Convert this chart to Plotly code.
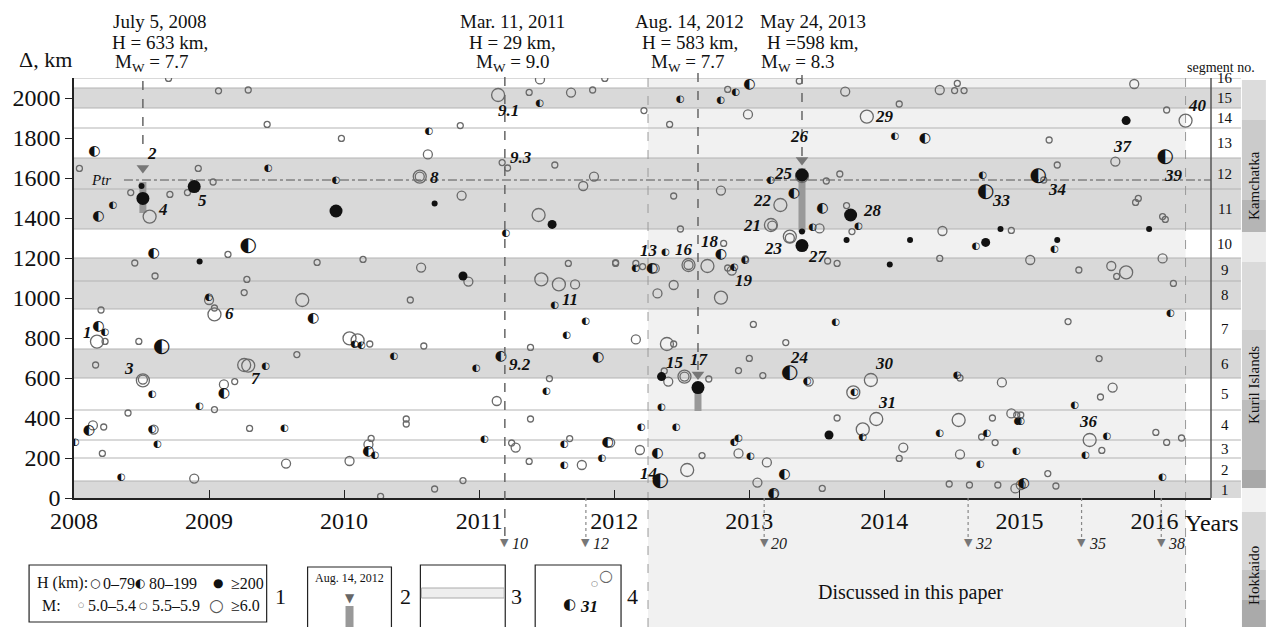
import plotly.graph_objects as go

# ---------------- data ----------------
# Earthquakes: year, epicentral distance (km), magnitude class (1: 5.0-5.4, 2: 5.5-5.9, 3: >=6.0)
# H 0-79 km (open circles)
open_year = [2008.04, 2008.70, 2009.07, 2009.29, 2009.43, 2009.98, 2008.42, 2008.71, 2008.84, 2008.92, 2009.03, 2008.56, 2010.56, 2010.56,
             2009.14, 2008.45, 2009.80, 2010.14, 2010.57, 2008.60, 2009.28, 2009.26, 2009.00, 2009.04, 2009.04, 2009.69, 2010.49, 2008.20,
             2008.17, 2008.23, 2008.48, 2010.04, 2010.10, 2010.19, 2010.59, 2008.16, 2009.65, 2009.26, 2009.29, 2008.51, 2008.51, 2009.11,
             2009.19, 2009.04, 2008.40, 2008.14, 2008.22, 2008.21, 2008.59, 2009.30, 2008.89, 2009.57, 2010.04, 2010.18, 2010.20, 2010.27,
             2010.46, 2010.46,
             2011.45, 2011.93, 2011.14, 2011.37, 2011.68, 2011.84, 2010.86, 2010.62, 2011.17, 2011.21, 2011.56, 2011.85, 2011.77, 2010.87,
             2011.44, 2010.92, 2011.46, 2011.59, 2011.71, 2011.66, 2012.01,
             2011.38, 2011.52, 2011.13, 2011.38, 2011.24, 2011.27, 2011.67, 2011.97, 2011.37, 2011.76, 2010.88, 2010.67,
             2012.22, 2012.41, 2012.84, 2012.99, 2013.37, 2013.71, 2014.11, 2014.41, 2014.52, 2014.59, 2014.54, 2013.87, 2013.57, 2013.67,
             2012.79, 2012.44, 2013.23, 2013.72, 2013.39,
             2012.49, 2013.16, 2013.17, 2013.30, 2013.30, 2013.52, 2013.76, 2014.43, 2014.94, 2014.41, 2013.58, 2013.65, 2012.01, 2012.16,
             2012.21, 2012.30, 2012.55, 2012.55, 2012.69, 2012.81, 2012.87, 2012.84, 2012.97, 2012.32, 2012.44, 2012.79, 2013.03, 2012.16,
             2012.39, 2012.44, 2013.27, 2012.37, 2012.40, 2012.52, 2012.52, 2012.70, 2012.92, 2013.00, 2013.10, 2013.44, 2013.90, 2013.77,
             2014.56, 2014.87, 2013.65, 2013.94, 2013.84, 2014.55, 2014.80, 2014.94, 2014.98, 2014.72, 2014.82, 2012.19, 2012.65, 2012.92,
             2013.13, 2012.54, 2013.06, 2013.18, 2013.54, 2014.14, 2014.11, 2014.56, 2014.48, 2014.63, 2014.84, 2014.97,
             2015.85, 2016.09, 2016.23, 2015.22, 2015.28, 2015.71, 2015.18, 2015.88, 2015.86, 2016.06, 2016.08, 2015.08, 2015.44, 2015.68,
             2015.79, 2015.72, 2016.06, 2016.14,
             2015.36, 2015.59, 2015.69, 2015.60, 2015.01, 2015.52, 2015.61, 2016.01, 2016.09, 2016.20, 2015.21, 2015.27, 2015.01]
open_dist = [1648, 2098, 2036, 2040, 1868, 1798, 1527, 1518, 1527, 1648, 1580, 1407, 1607, 1607,
             1218, 1175, 1178, 1193, 1152, 1110, 1093, 1027, 990, 950, 918, 990, 990, 940,
             782, 783, 783, 798, 788, 770, 760, 665, 717, 665, 662, 588, 592, 568,
             582, 442, 425, 363, 355, 223, 342, 348, 97, 172, 185, 268, 298, 8,
             395, 370,
             2093, 2098, 2015, 2028, 2027, 2040, 1862, 1718, 1677, 1650, 1665, 1607, 1560, 1512,
             1415, 1082, 1093, 1068, 1068, 1173, 1173,
             753, 597, 485, 395, 275, 252, 297, 277, 183, 165, 87, 45,
             1937, 1868, 2043, 1918, 2085, 2032, 1970, 2040, 2037, 2037, 2073, 1907, 1585, 1620,
             1537, 1510, 1465, 1462, 1610,
             1345, 1365, 1362, 1307, 1300, 1348, 1332, 1335, 1338, 1198, 1185, 1173, 1177, 1173,
             1157, 1148, 1165, 1165, 1160, 1273, 1137, 1150, 1195, 1023, 1065, 1002, 868, 793,
             770, 770, 777, 635, 582, 607, 607, 595, 637, 698, 612, 582, 590, 528,
             600, 578, 400, 395, 343, 390, 400, 423, 415, 305, 277, 240, 212, 223,
             178, 140, 77, 18, 48, 252, 198, 218, 70, 65, 65, 48,
             2070, 1940, 1887, 1790, 1665, 1682, 1590, 1498, 1478, 1407, 1393, 1190, 1140, 1160,
             1128, 1108, 1198, 1073,
             882, 697, 552, 505, 415, 290, 238, 328, 278, 300, 122, 60, 65]
open_mag = [1, 1, 1, 1, 1, 1, 1, 1, 1, 1, 1, 3, 3, 2,
            1, 1, 1, 1, 2, 1, 1, 1, 2, 1, 3, 3, 1, 1,
            3, 1, 1, 3, 3, 1, 1, 1, 1, 3, 3, 3, 2, 2,
            1, 1, 1, 2, 1, 1, 2, 1, 2, 2, 2, 2, 1, 1,
            1, 1,
            2, 1, 3, 1, 2, 1, 1, 2, 1, 1, 1, 2, 2, 2,
            3, 2, 3, 3, 2, 1, 1,
            1, 1, 2, 1, 1, 2, 1, 2, 1, 2, 1, 1,
            1, 1, 1, 2, 1, 2, 1, 2, 1, 1, 1, 3, 1, 1,
            2, 1, 3, 1, 3,
            1, 3, 2, 3, 2, 2, 1, 2, 1, 1, 1, 1, 1, 1,
            1, 2, 3, 2, 3, 1, 2, 1, 1, 2, 2, 3, 1, 2,
            3, 1, 1, 1, 2, 3, 2, 1, 1, 1, 1, 2, 3, 3,
            1, 2, 1, 3, 3, 3, 1, 2, 1, 1, 1, 2, 1, 2,
            2, 3, 2, 2, 1, 2, 1, 2, 1, 1, 1, 2,
            2, 1, 3, 1, 1, 2, 1, 1, 1, 1, 1, 2, 1, 2,
            3, 1, 2, 1,
            1, 1, 2, 1, 1, 3, 1, 1, 1, 1, 1, 1, 2]

# H 80-199 km (half-filled circles)
half_year = [2008.15, 2008.29, 2008.18, 2009.44, 2009.94, 2009.29, 2008.59, 2009.00, 2009.77, 2008.18, 2008.23, 2008.65, 2010.08,
             2010.13, 2010.37, 2009.42, 2008.58, 2009.11, 2008.93, 2008.11, 2008.01, 2008.58, 2008.62, 2009.56, 2008.35, 2010.18,
             2010.23,
             2011.45, 2010.63, 2011.20,
             2011.56, 2011.79, 2011.65, 2011.16, 2010.98, 2011.88, 2011.50, 2011.04, 2011.63, 2011.95, 2011.63, 2011.91,
             2012.49, 2012.79, 2012.90, 2013.00, 2014.08, 2014.30, 2013.16, 2013.33, 2014.73, 2014.75, 2013.54,
             2013.47, 2013.81, 2014.68, 2012.38, 2012.28, 2012.16, 2012.79, 2012.89, 2012.97, 2013.64, 2012.35, 2012.20, 2012.46,
             2013.30, 2013.43, 2013.78, 2014.54, 2013.84, 2014.41, 2014.76, 2014.99, 2012.32, 2012.89, 2012.92, 2013.01, 2012.34,
             2013.26, 2013.18, 2014.71, 2014.98,
             2016.08, 2015.14, 2015.26,
             2016.12, 2015.41, 2015.01, 2015.65, 2015.49, 2015.03, 2016.06]
half_dist = [1735, 1462, 1407, 1648, 1590, 1262, 1223, 1002, 897, 857, 827, 755, 770,
             765, 708, 660, 518, 523, 458, 337, 277, 342, 270, 348, 105, 232,
             215,
             1973, 1835, 1323,
             962, 885, 812, 710, 648, 703, 533, 295, 270, 277, 165, 198,
             1995, 1990, 2030, 2070, 1810, 1798, 1590, 1523, 1612, 1532, 1448,
             1353, 1360, 1260, 1228, 1148, 1148, 1218, 1152, 1188, 878, 453, 355, 355,
             627, 582, 530, 612, 305, 323, 323, 382, 223, 277, 298, 210, 85,
             120, 25, 170, 232,
             1703, 1610, 1245,
             923, 465, 382, 310, 212, 73, 105]
half_mag = [2, 1, 2, 1, 1, 3, 2, 1, 2, 2, 1, 3, 1,
            1, 1, 1, 1, 2, 1, 2, 1, 1, 1, 1, 1, 2,
            1,
            1, 1, 1,
            1, 1, 1, 2, 1, 2, 1, 1, 1, 2, 1, 1,
            1, 1, 1, 2, 1, 2, 1, 2, 1, 3, 2,
            1, 1, 1, 1, 2, 1, 2, 1, 1, 1, 1, 1, 1,
            3, 1, 1, 1, 1, 1, 1, 1, 2, 1, 1, 1, 3,
            2, 2, 1, 1,
            3, 3, 1,
            1, 1, 1, 1, 1, 2, 1]

# H >= 200 km (filled circles)
fill_year = [2008.50, 2008.51, 2008.89, 2009.94, 2008.93, 2010.67, 2011.54, 2010.88, 2012.35, 2012.62, 2013.39, 2013.39,
             2013.39, 2013.75, 2013.72, 2014.19, 2014.86, 2014.75, 2014.04, 2013.59, 2015.79, 2015.96, 2015.28]
fill_dist = [1560, 1498, 1557, 1435, 1183, 1473, 1368, 1110, 607, 552, 1615, 1332,
             1262, 1415, 1290, 1290, 1345, 1278, 1168, 315, 1887, 1345, 1290]
fill_mag = [1, 3, 3, 3, 1, 1, 2, 2, 2, 3, 3, 1,
            3, 3, 1, 1, 1, 2, 1, 2, 2, 1, 1]

# Numbered events (labels)
lab_text = ["1", "2", "3", "4", "5", "6", "7", "8", "9.1", "9.2", "9.3", "11", "13", "14", "15", "16", "17", "18", "19",
            "21", "22", "23", "24", "25", "26", "27", "28", "29", "30", "31", "33", "34", "36", "37", "39", "40"]
lab_year = [2008.10, 2008.58, 2008.41, 2008.66, 2008.95, 2009.15, 2009.35, 2010.67, 2011.22, 2011.30, 2011.31, 2011.67,
            2012.26, 2012.25, 2012.45, 2012.52, 2012.63, 2012.71, 2012.96, 2013.02, 2013.10, 2013.18, 2013.37, 2013.25,
            2013.37, 2013.51, 2013.91, 2014.00, 2014.00, 2014.02, 2014.87, 2015.28, 2015.51, 2015.77, 2016.14, 2016.32]
lab_dist = [830, 1725, 650, 1445, 1490, 925, 600, 1605, 1940, 670, 1705, 995,
            1240, 125, 680, 1245, 695, 1285, 1090, 1365, 1490, 1248, 705, 1623,
            1807, 1207, 1437, 1907, 675, 480, 1490, 1545, 382, 1760, 1615, 1965]

# Great deep / megathrust earthquakes
event_year = [2008.51, 2011.19, 2012.62, 2013.39]
event_date = ["July 5, 2008", "Mar. 11, 2011", "Aug. 14, 2012", "May 24, 2013"]
event_depth = ["H = 633 km,", "H = 29 km,", "H = 583 km,", "H =598 km,"]
event_mw = ["7.7", "9.0", "7.7", "8.3"]
event_line_end = [1770, None, 640, 1710]     # end of dashed line (km)
event_tip = [1650, None, 618, 1690]          # arrow tip (km)
event_bar_top = [1580, None, 565, 1650]      # rupture bar (km)
event_bar_bot = [1425, None, 435, 1330]

# Events outside the segment range (arrows below axis)
below_text = ["10", "12", "20", "32", "35", "38"]
below_year = [2011.19, 2011.79, 2013.11, 2014.62, 2015.46, 2016.05]

# Segments
seg_bounds = [0, 85, 200, 290, 440, 600, 745, 945, 1085, 1200, 1345, 1545, 1700, 1850, 1950, 2050, 2100]
seg_grey = [1, 6, 8, 9, 11, 12, 15]
ptr_dist = 1590
discussed = [2012.25, 2016.23]

years = list(range(2008, 2017))
dist_ticks = list(range(0, 2001, 200))

# Legend key texts
legend_h = [("H (km):", 33), ("0–79", 99), ("80–199", 145), ("≥200", 227)]
legend_h_sym = [("○", 93), ("◐", 138), ("●", 216)]
legend_m = [("M:", 38), ("5.0–5.4", 84), ("5.5–5.9", 148), ("≥6.0", 227)]
legend_m_sym = [(7, 79), (10, 142), (17, 215)]

# ---------------- styling helpers ----------------
L, R, T, B = 72, 55, 78, 129
W, H = 1266, 627
PW, PH = W - L - R, H - T - B
X0, X1 = 2008.0, 2008.0 + PW / 135.3


def py(p):
    return (H - B - p) / PH


def px(p):
    return (p - L) / PW


SERIF = "Liberation Serif, Times New Roman, serif"
SYMF = "DejaVu Sans"
OPEN_SIZE = {1: 6, 2: 9, 3: 13}
FILL_SIZE = {1: 6, 2: 9, 3: 13}
HALF_FONT = {1: 10, 2: 14, 3: 20}
OPEN_COLOR = "#6a6a6a"

fig = go.Figure()
shapes = []
ann = []

# discussed region background
shapes.append(dict(type="rect", xref="x", yref="paper", x0=discussed[0], x1=discussed[1], y0=py(627), y1=1,
                   fillcolor="#f1f1f1", line_width=0, layer="below"))
# grey segment bands
for s in seg_grey:
    shapes.append(dict(type="rect", xref="paper", yref="y", x0=0, x1=px(1241), y0=seg_bounds[s - 1], y1=seg_bounds[s],
                       fillcolor="#d9d9d9", line_width=0, layer="below"))
# boundary lines
for b in seg_bounds[1:]:
    shapes.append(dict(type="line", xref="paper", yref="y", x0=0, x1=px(1241), y0=b, y1=b,
                       line=dict(color="#b3b3b3", width=1.2), layer="below"))
# discussed region dashed borders
for d in discussed:
    shapes.append(dict(type="line", xref="x", yref="paper", x0=d, x1=d, y0=py(627), y1=1,
                       line=dict(color="#9a9a9a", width=1, dash="dash"), layer="below"))
# Ptr line
shapes.append(dict(type="line", xref="x", yref="y", x0=2008.37, x1=X1, y0=ptr_dist, y1=ptr_dist,
                   line=dict(color="#555", width=1, dash="dashdot"), layer="below"))
# right border of plot
shapes.append(dict(type="line", xref="paper", yref="paper", x0=1, x1=1, y0=0, y1=1, line=dict(color="#555", width=1.5)))

# event dashed lines
for i, ey in enumerate(event_year):
    end = event_line_end[i]
    y_end = py(536) if end is None else end / 2100
    shapes.append(dict(type="line", xref="x", yref="paper", x0=ey, x1=ey, y0=y_end, y1=py(73),
                       line=dict(color="#666", width=1.5, dash="dash")))
# below-axis dotted lines
for by in below_year[1:]:
    shapes.append(dict(type="line", xref="x", yref="paper", x0=by, x1=by, y0=py(537), y1=0,
                       line=dict(color="#888", width=1.2, dash="dot")))

# right geographic bar
bar_stops = [(80, 120, "#dcdcdc"), (120, 200, "#cbcbcb"), (200, 232, "#b5b5b5"), (232, 262, "#ececec"),
             (262, 330, "#dadada"), (330, 400, "#cfcfcf"), (400, 470, "#bcbcbc"), (470, 488, "#a8a8a8"),
             (488, 512, "#f2f2f2"), (512, 570, "#d6d6d6"), (570, 600, "#c2c2c2"), (600, 627, "#aaaaaa")]
for y0, y1, c in bar_stops:
    shapes.append(dict(type="rect", xref="paper", yref="paper", x0=px(1242), x1=px(1266), y0=py(y1), y1=py(y0),
                       fillcolor=c, line_width=0))

# legend boxes
box_style = dict(color="#222", width=1.2)
shapes.append(dict(type="rect", xref="paper", yref="paper", x0=px(27), x1=px(265), y0=py(622), y1=py(565), line=box_style))
shapes.append(dict(type="rect", xref="paper", yref="paper", x0=px(306), x1=px(390), y0=py(640), y1=py(567), line=box_style))
shapes.append(dict(type="rect", xref="paper", yref="paper", x0=px(419), x1=px(504), y0=py(640), y1=py(565), line=box_style))
shapes.append(dict(type="rect", xref="paper", yref="paper", x0=px(534), x1=px(620), y0=py(640), y1=py(565), line=box_style))
shapes.append(dict(type="rect", xref="paper", yref="paper", x0=px(344), x1=px(352), y0=py(627), y1=py(606),
                   fillcolor="#999", line_width=0))
shapes.append(dict(type="rect", xref="paper", yref="paper", x0=px(420), x1=px(503), y0=py(598), y1=py(588),
                   fillcolor="#eeeeee", line=dict(color="#aaa", width=1)))

# ---------------- traces ----------------
# rupture bars
for i, ey in enumerate(event_year):
    if event_bar_top[i] is not None:
        fig.add_trace(go.Scatter(x=[ey, ey], y=[event_bar_top[i], event_bar_bot[i]], mode="lines",
                                 line=dict(color="#999", width=7), hoverinfo="skip"))

fig.add_trace(go.Scatter(x=open_year, y=open_dist, mode="markers",
                         marker=dict(symbol="circle-open", size=[OPEN_SIZE[m] for m in open_mag], color=OPEN_COLOR,
                                     opacity=1, line=dict(width=1.3, color=OPEN_COLOR)), hoverinfo="skip"))
fig.add_trace(go.Scatter(x=half_year, y=half_dist, mode="text", text=["◐"] * len(half_year),
                         textposition="middle center",
                         textfont=dict(family=SYMF, size=[HALF_FONT[m] for m in half_mag], color="#111"),
                         hoverinfo="skip"))
fig.add_trace(go.Scatter(x=fill_year, y=fill_dist, mode="markers",
                         marker=dict(symbol="circle", size=[FILL_SIZE[m] for m in fill_mag], color="#111",
                                     opacity=1, line=dict(width=0)), hoverinfo="skip"))

# event arrowheads
tip_x = [event_year[i] for i in range(4) if event_tip[i] is not None]
tip_y = [event_tip[i] for i in range(4) if event_tip[i] is not None]
fig.add_trace(go.Scatter(x=tip_x, y=tip_y, mode="markers",
                         marker=dict(symbol="triangle-down", size=11, color="#777", opacity=1), hoverinfo="skip"))

# ---------------- annotations ----------------
def note(text, x, y, xref="paper", yref="paper", size=16, family=SERIF, color="#111", **kw):
    d = dict(x=x, y=y, xref=xref, yref=yref, text=text, showarrow=False, xanchor="center", yanchor="middle",
             font=dict(family=family, size=size, color=color))
    d.update(kw)
    ann.append(d)


for t, x, y in zip(lab_text, lab_year, lab_dist):
    note("<b><i>%s</i></b>" % t, x, y, xref="x", yref="y", size=17)
for t, x in zip(below_text, below_year):
    note("▼", x, py(542), xref="x", size=11, family=SYMF, color="#777")
    note("<i>%s</i>" % t, x, py(543), xref="x", size=16, color="#222", xanchor="left", xshift=5)

centers = [158, 511, 689, 812]
mw_shift = [-8, 0, -2, -15]
for i in range(4):
    cx = px(centers[i])
    note(event_date[i], cx, py(21), size=19)
    note(event_depth[i], cx, py(42), size=19)
    note("M<sub>W</sub> = " + event_mw[i], cx, py(63), size=19, xshift=mw_shift[i])

note("Δ, km", px(43), py(60), size=22)
note("<i>Ptr</i>", px(99), ptr_dist, yref="y", size=15)
note("segment no.", px(1221), py(67), size=14)
for k in range(1, 17):
    yc = (seg_bounds[k - 1] + seg_bounds[k]) / 2 if k < 16 else 2098
    note(str(k), px(1225), yc, yref="y", size=15)
for txt, yy in [("Kamchatka", 185), ("Kuril Islands", 385), ("Hokkaido", 575)]:
    note(txt, px(1254), py(yy), size=15, textangle=-90)
note("Years", px(1212), py(523), size=24)
note("Discussed in this paper", px(910), py(592), size=20)

# legend content
for txt, xx in legend_h:
    note(txt, px(xx), py(583), size=16, xanchor="left")
for sym, xx in legend_h_sym:
    note(sym, px(xx), py(583), size=12, family=SYMF)
for txt, xx in legend_m:
    note(txt, px(xx), py(605), size=16, xanchor="left")
for sz, xx in legend_m_sym:
    note("○", px(xx), py(605), size=sz, family=SYMF, color="#555")
for txt, xx in [("1", 279), ("2", 404), ("3", 515), ("4", 631)]:
    note(txt, px(xx), py(596), size=22)
note("Aug. 14, 2012", px(348), py(578), size=12)
note("▼", px(348), py(598), size=12, family=SYMF, color="#666")
note("◐", px(568), py(604), size=15, family=SYMF)
note("<b><i>31</i></b>", px(588), py(606), size=17)
note("○", px(593), py(583), size=8, family=SYMF, color="#666")
note("○", px(605), py(575), size=16, family=SYMF, color="#666")

fig.update_layout(
    width=W, height=H, margin=dict(l=L, r=R, t=T, b=B),
    plot_bgcolor="white", paper_bgcolor="white", showlegend=False,
    shapes=shapes, annotations=ann,
    xaxis=dict(range=[X0, X1], tickvals=years, ticktext=[str(y) for y in years], ticks="inside", ticklen=8,
               tickcolor="#222", showline=True, linecolor="#222", linewidth=1.5, showgrid=False, zeroline=False,
               tickfont=dict(family=SERIF, size=24, color="#111")),
    yaxis=dict(range=[0, 2100], tickvals=dist_ticks, ticks="outside", ticklen=7, tickcolor="#222",
               showline=True, linecolor="#222", linewidth=1.5, showgrid=False, zeroline=False,
               tickfont=dict(family=SERIF, size=24, color="#111")),
)

fig.write_html("out.html", config={"displayModeBar": False},
               post_script="document.body.style.margin='0px';document.body.style.overflow='hidden';")
